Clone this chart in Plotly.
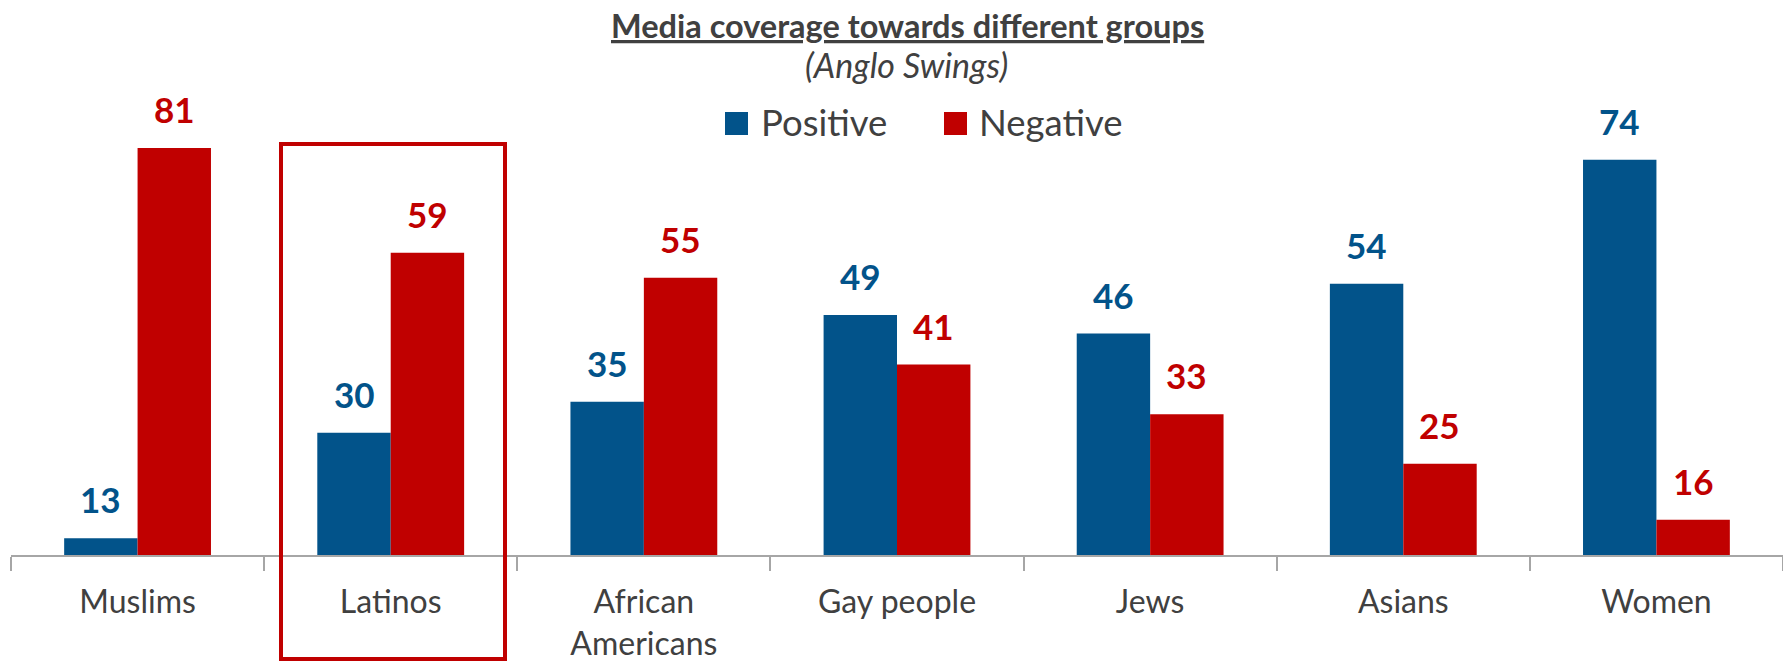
import plotly.graph_objects as go

# Coverage shares by group (percent)
groups = ["Muslims", "Latinos", "African<br>Americans", "Gay people", "Jews", "Asians", "Women"]
positive = [13, 30, 35, 49, 46, 54, 74]
negative = [81, 59, 55, 41, 33, 25, 16]

BLUE = "#02538A"
RED = "#C00000"
TEXT = "#404040"
AXIS = "#A6A6A6"
FONT = "Lato"

W, H = 1783, 662
ML, MR, MT, MB = 11, 0, 148, 107
BARGAP = 0.42
Y_RANGE = [10.3, 75.9]

plot_w = W - ML - MR
plot_h = H - MT - MB


def px_x(px):
    return (px - ML) / plot_w


def px_y(py):
    return (H - MB - py) / plot_h


fig = go.Figure()
fig.add_trace(go.Bar(name="Positive", x=groups, y=positive, marker_color=BLUE,
                     marker_line_width=0, showlegend=False))
fig.add_trace(go.Bar(name="Negative", x=groups, y=negative, marker_color=RED,
                     marker_line_width=0, showlegend=False))

# value labels above each bar; bars running past the top of the axis are
# labelled just above the plot edge
cat_px = plot_w / len(groups)
bar_px = cat_px * (1 - BARGAP) / 2
annotations = []
for series, color, sign in ((positive, BLUE, -1), (negative, RED, 1)):
    for g, v in zip(groups, series):
        annotations.append(dict(
            x=g, y=min(v, Y_RANGE[1]), xref="x", yref="y", text=f"<b>{v}</b>",
            showarrow=False, xanchor="center", yanchor="middle",
            xshift=sign * bar_px / 2, yshift=39,
            font=dict(family=FONT, size=35, color=color),
        ))

# title and subtitle
annotations.append(dict(
    x=px_x(907), y=px_y(25), xref="paper", yref="paper",
    text="<b><u>Media coverage towards different groups</u></b>",
    showarrow=False, xanchor="center", yanchor="middle",
    font=dict(family=FONT, size=32.5, color=TEXT),
))
annotations.append(dict(
    x=px_x(906), y=px_y(64), xref="paper", yref="paper",
    text="<i>(Anglo Swings)</i>",
    showarrow=False, xanchor="center", yanchor="middle",
    font=dict(family=FONT, size=34, color=TEXT),
))

# legend
shapes = []
for label, color, sq_left, txt_left in (("Positive", BLUE, 725, 759), ("Negative", RED, 944, 977)):
    shapes.append(dict(type="rect", xref="paper", yref="paper",
                       x0=px_x(sq_left), x1=px_x(sq_left + 23),
                       y0=px_y(135), y1=px_y(112),
                       fillcolor=color, line_width=0))
    annotations.append(dict(
        x=px_x(txt_left), y=px_y(122), xref="paper", yref="paper",
        text=label, showarrow=False, xanchor="left", yanchor="middle",
        font=dict(family=FONT, size=36.5, color=TEXT),
    ))

# highlight box around Latinos
shapes.append(dict(type="rect", xref="paper", yref="paper",
                   x0=px_x(281), x1=px_x(505), y0=px_y(659), y1=px_y(144),
                   line=dict(color=RED, width=4), fillcolor="rgba(0,0,0,0)"))

fig.update_layout(
    width=W, height=H,
    margin=dict(l=ML, r=MR, t=MT, b=MB, pad=0),
    barmode="group", bargap=BARGAP, bargroupgap=0,
    plot_bgcolor="white", paper_bgcolor="white",
    annotations=annotations, shapes=shapes,
    showlegend=False,
    font=dict(family=FONT, color=TEXT),
)
fig.update_xaxes(
    range=[-0.5, len(groups) - 0.5],
    showline=True, linecolor=AXIS, linewidth=2,
    ticks="outside", tickson="boundaries", ticklen=14, tickwidth=2, tickcolor=AXIS,
    ticklabelstandoff=18,
    showgrid=False, zeroline=False,
    tickfont=dict(family=FONT, size=32, color=TEXT),
)
fig.update_yaxes(range=Y_RANGE, visible=False, showgrid=False, zeroline=False)

fig.write_html("out.html", config={"displayModeBar": False})
